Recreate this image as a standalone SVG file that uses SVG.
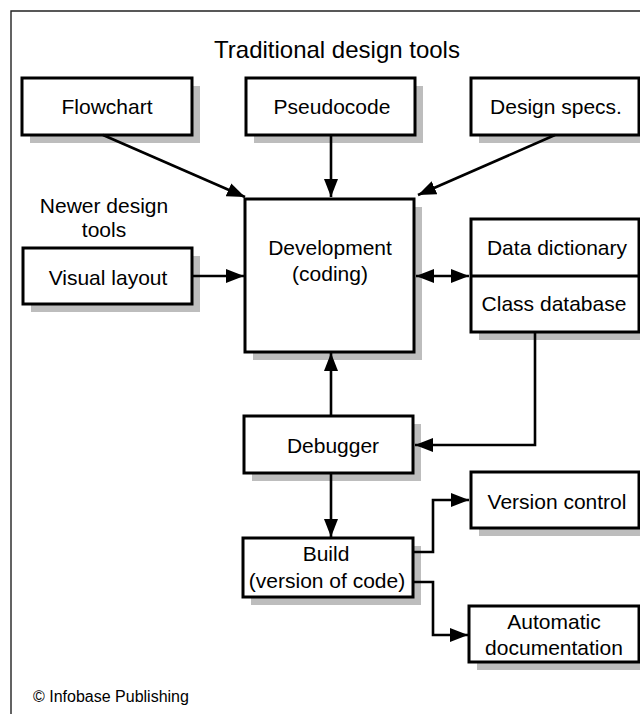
<svg xmlns="http://www.w3.org/2000/svg" width="640" height="714" viewBox="0 0 640 714">
<style>
  text { font-family: "Liberation Sans", Arial, sans-serif; fill: #000; }
  .lbl { font-size: 21px; text-anchor: middle; }
  .title { font-size: 24px; text-anchor: middle; }
  .credit { font-size: 16px; }
  .box { fill: #fff; stroke: #000; stroke-width: 3; }
  .shadow { fill: #bdbdbd; stroke: none; }
  .conn { fill: none; stroke: #000; stroke-width: 2.6; }
  .frame { fill: none; stroke: #222; stroke-width: 1.4; }
</style>
<defs>
  <marker id="ah" markerUnits="userSpaceOnUse" markerWidth="20" markerHeight="14" refX="18" refY="7" orient="auto-start-reverse">
    <path d="M0,0 L18,7 L0,14 Z" fill="#000"/>
  </marker>
</defs>
<rect x="0" y="0" width="640" height="714" fill="#fff"/>
<path class="frame" d="M11,714 V11 H640"/>

<text class="title" x="337" y="58">Traditional design tools</text>
<g id="newer-label">
  <text class="lbl" x="104" y="213">Newer design</text>
  <text class="lbl" x="104" y="237">tools</text>
</g>

<g id="flowchart">
  <rect class="shadow" x="30" y="86" width="170" height="57"/>
  <rect class="box" x="22" y="78" width="170" height="57"/>
  <text class="lbl" x="107" y="114">Flowchart</text>
</g>
<g id="pseudocode">
  <rect class="shadow" x="254" y="86" width="169" height="57"/>
  <rect class="box" x="246" y="78" width="169" height="57"/>
  <text class="lbl" x="332" y="114">Pseudocode</text>
</g>
<g id="design-specs">
  <rect class="shadow" x="479" y="86" width="168" height="57"/>
  <rect class="box" x="471" y="78" width="168" height="57"/>
  <text class="lbl" x="556" y="114">Design specs.</text>
</g>
<g id="visual-layout">
  <rect class="shadow" x="31" y="256" width="169" height="56"/>
  <rect class="box" x="23" y="248" width="169" height="56"/>
  <text class="lbl" x="108" y="285">Visual layout</text>
</g>
<g id="development">
  <rect class="shadow" x="253" y="207" width="169" height="153"/>
  <rect class="box" x="245" y="199" width="169" height="153"/>
  <text class="lbl" x="330" y="255">Development</text>
  <text class="lbl" x="330" y="281">(coding)</text>
</g>
<g id="data-class">
  <rect class="shadow" x="479" y="227" width="168" height="113"/>
  <rect class="box" x="471" y="219" width="168" height="113"/>
  <line x1="471" y1="276" x2="639" y2="276" stroke="#000" stroke-width="3"/>
  <text class="lbl" x="557" y="255">Data dictionary</text>
  <text class="lbl" x="554" y="311">Class database</text>
</g>
<g id="debugger">
  <rect class="shadow" x="252" y="424" width="169" height="57"/>
  <rect class="box" x="244" y="416" width="169" height="57"/>
  <text class="lbl" x="333" y="453">Debugger</text>
</g>
<g id="build">
  <rect class="shadow" x="251" y="546" width="170" height="59"/>
  <rect class="box" x="243" y="538" width="170" height="59"/>
  <text class="lbl" x="326" y="561">Build</text>
  <text class="lbl" x="327" y="588">(version of code)</text>
</g>
<g id="version-control">
  <rect class="shadow" x="479" y="480" width="168" height="56"/>
  <rect class="box" x="471" y="472" width="168" height="56"/>
  <text class="lbl" x="557" y="509">Version control</text>
</g>
<g id="auto-doc">
  <rect class="shadow" x="477" y="614" width="170" height="56"/>
  <rect class="box" x="469" y="606" width="170" height="56"/>
  <text class="lbl" x="554" y="629">Automatic</text>
  <text class="lbl" x="554" y="655">documentation</text>
</g>

<g id="connectors">
  <line class="conn" x1="103" y1="135" x2="245" y2="197" marker-end="url(#ah)"/>
  <line class="conn" x1="331" y1="135" x2="331" y2="197" marker-end="url(#ah)"/>
  <line class="conn" x1="555" y1="135" x2="418" y2="195" marker-end="url(#ah)"/>
  <line class="conn" x1="192" y1="276" x2="244" y2="276" marker-end="url(#ah)"/>
  <line class="conn" x1="416" y1="276" x2="469" y2="276" marker-start="url(#ah)" marker-end="url(#ah)"/>
  <path class="conn" d="M535,332 V445 H415" marker-end="url(#ah)"/>
  <line class="conn" x1="331" y1="416" x2="331" y2="353" marker-end="url(#ah)"/>
  <line class="conn" x1="331" y1="473" x2="331" y2="537" marker-end="url(#ah)"/>
  <path class="conn" d="M413,552 H433 V500 H469" marker-end="url(#ah)"/>
  <path class="conn" d="M413,582 H433 V635 H468" marker-end="url(#ah)"/>
</g>

<text class="credit" x="33" y="702">© Infobase Publishing</text>
</svg>
